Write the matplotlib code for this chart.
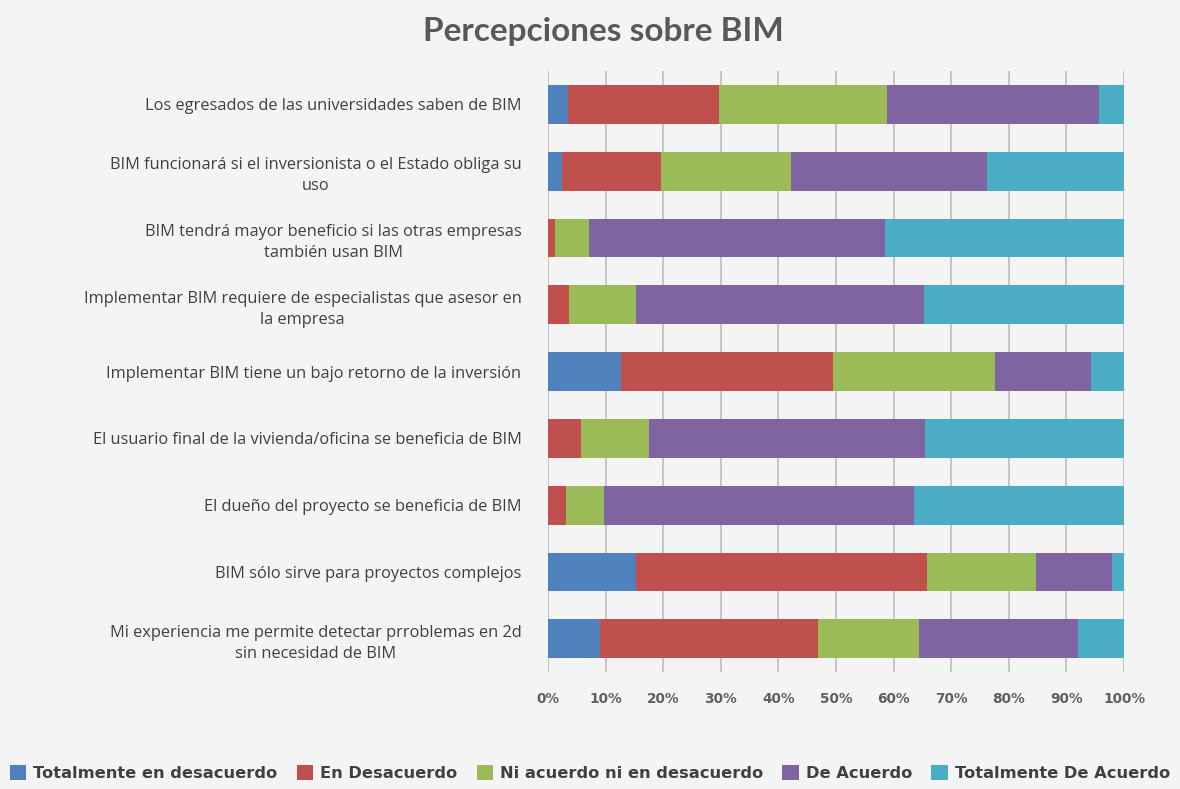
import matplotlib
matplotlib.use("Agg")
import matplotlib.pyplot as plt
import numpy as np

categories = [
    "Los egresados de las universidades saben de BIM",
    "BIM funcionará si el inversionista o el Estado obliga su\nuso",
    "BIM tendrá mayor beneficio si las otras empresas\ntambién usan BIM",
    "Implementar BIM requiere de especialistas que asesor en\nla empresa",
    "Implementar BIM tiene un bajo retorno de la inversión",
    "El usuario final de la vivienda/oficina se beneficia de BIM",
    "El dueño del proyecto se beneficia de BIM",
    "BIM sólo sirve para proyectos complejos",
    "Mi experiencia me permite detectar prroblemas en 2d\nsin necesidad de BIM",
]
series_names = ["Totalmente en desacuerdo", "En Desacuerdo", "Ni acuerdo ni en desacuerdo",
                "De Acuerdo", "Totalmente De Acuerdo"]
totalmente_desacuerdo = [3.5, 2.5, 0.0, 0.0, 12.6, 0.0, 0.0, 15.3, 9.1]
en_desacuerdo = [26.2, 17.1, 1.2, 3.7, 36.8, 5.8, 3.2, 50.5, 37.7]
ni_acuerdo = [29.2, 22.6, 5.9, 11.6, 28.2, 11.7, 6.5, 19.0, 17.7]
de_acuerdo = [36.8, 34.1, 51.4, 49.9, 16.7, 47.9, 53.8, 13.1, 27.5]
totalmente_acuerdo = [4.3, 23.7, 41.5, 34.8, 5.7, 34.6, 36.5, 2.1, 8.0]
tick_labels = ["0%", "10%", "20%", "30%", "40%", "50%", "60%", "70%", "80%", "90%", "100%"]

colors = ["#4F81BD", "#C0504D", "#9BBB59", "#8064A2", "#4BACC6"]
bg = "#f4f4f4"

fig = plt.figure(figsize=(11.8, 7.89), dpi=100, facecolor=bg)
ax = fig.add_axes([0.4644, 0.148, 0.4881, 0.762])
ax.set_facecolor(bg)

data = np.array([totalmente_desacuerdo, en_desacuerdo, ni_acuerdo, de_acuerdo, totalmente_acuerdo])
data = data / data.sum(axis=0) * 100
y = np.arange(len(categories))
left = np.zeros(len(categories))
handles = []
for vals, c, name in zip(data, colors, series_names):
    h = ax.barh(y, vals, left=left, height=0.58, color=c, label=name, zorder=3,
                edgecolor="none")
    handles.append(h)
    left += vals

ax.set_ylim(len(categories) - 0.5, -0.5)
ax.set_xlim(0, 100)
ax.set_xticks(np.arange(0, 101, 10))
ax.set_xticklabels(tick_labels, fontweight="bold", color="#5f5f5f", fontsize=9.8,
                   family="DejaVu Sans")
ax.tick_params(axis="x", length=0, pad=14)
ax.set_yticks(y)
ax.set_yticklabels(categories, fontsize=11.8, color="#404040", family="Open Sans",
                   multialignment="center", linespacing=1.4)
ax.tick_params(axis="y", length=0, pad=19)
ax.grid(axis="x", color="#c4c4c4", linewidth=1.4, zorder=0)
for s in ax.spines.values():
    s.set_visible(False)

fig.text(0.511, 0.96, "Percepciones sobre BIM", ha="center", va="center",
         fontsize=24, fontweight="bold", color="#595959", family="Lato")

leg = fig.legend(handles=handles, labels=series_names, loc="center", ncol=5,
                 bbox_to_anchor=(0.5, 0.02), frameon=False,
                 prop={"weight": "bold", "size": 11.7, "family": "DejaVu Sans"},
                 handlelength=1.0, handleheight=1.0, handletextpad=0.45,
                 columnspacing=1.17)
for t in leg.get_texts():
    t.set_color("#404040")

fig.savefig("out.png", dpi=100, facecolor=bg)
